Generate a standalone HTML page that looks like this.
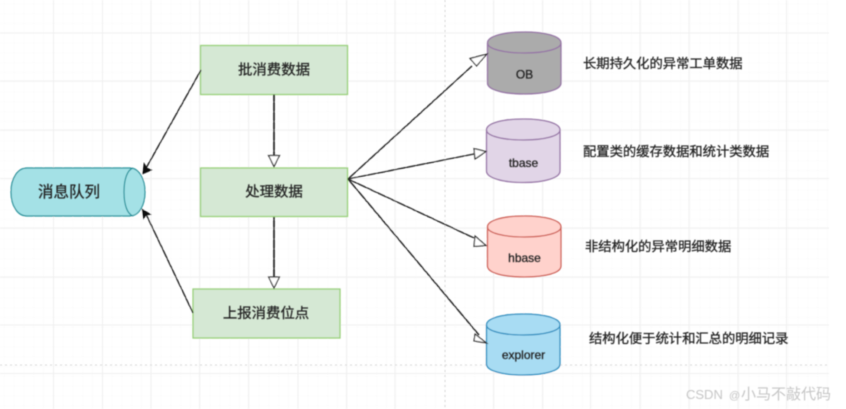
<!DOCTYPE html>
<html><head><meta charset="utf-8"><style>
html,body{margin:0;padding:0;background:#fff;width:846px;height:409px;overflow:hidden}
svg{display:block}
text{font-family:"Liberation Sans","Noto Sans CJK SC",sans-serif;fill:#222}
</style></head><body>
<svg width="846" height="409" viewBox="0 0 846 409" xmlns="http://www.w3.org/2000/svg">
<defs>
<pattern id="gm" x="4" y="-16" width="9.8" height="9.8" patternUnits="userSpaceOnUse"><path d="M0 0V9.8M0 0H9.8" stroke="#f9f9f9" stroke-width="1" fill="none"/></pattern>
<filter id="b" x="-5%" y="-5%" width="110%" height="110%"><feGaussianBlur stdDeviation="0.45"/></filter>
</defs>
<g filter="url(#b)">
<rect x="0" y="0" width="829" height="409" fill="url(#gm)"/>
<g stroke="#f0f0f0" stroke-width="1">
<path d="M53.5 0V409M102.5 0V409M151 0V409M199.5 0V409M248.5 0V409M298 0V409M346.5 0V409M395 0V409M493.5 0V409M542.5 0V409M590.5 0V409M640 0V409M689 0V409M738 0V409M786.5 0V409"/>
<path d="M0 33H829M0 81H829M0 130H829M0 178.5H829M0 228H829M0 277H829M0 325H829M0 373.5H829"/>
</g>
<path d="M445 0V409" stroke="#d4d4d4" stroke-width="1" stroke-dasharray="2 3" fill="none"/>
<path d="M0 365H829" stroke="#d8d8d8" stroke-width="1" stroke-dasharray="2 3" fill="none"/>

<g fill="#d5e8d4" stroke="#97d077" stroke-width="1.3">
<rect x="200.5" y="45.5" width="147" height="49"/>
<rect x="200.5" y="168" width="147" height="48.5"/>
<rect x="193" y="289" width="147" height="49"/>
</g>

<path d="M27 168H130C139 168 145 179 145 192C145 205 139 216 130 216H27C17 216 11 205 11 192C11 179 17 168 27 168Z" fill="#a4e1e6" stroke="#1f929b" stroke-width="1.2"/>
<path d="M133 168C127 170 124 180 124 192C124 204 127 214 133 216" fill="none" stroke="#1f929b" stroke-width="1.2"/>

<g stroke-width="1.3">
<path d="M487.500 43C487.500 36 504 32 524.500 32C545 32 561 36 561 43V83C561 90 545 94 524.500 94C504 94 487.500 90 487.500 83Z" fill="#ababab" stroke="#9673a6"/>
<path d="M487.500 43C487.500 49 504 53 524.500 53C545 53 561 49 561 43" fill="none" stroke="#9673a6"/>
<path d="M486.500 130C486.500 123 503 119 523.500 119C544 119 560 123 560 130V171C560 178 544 182.500 523.500 182.500C503 182.500 486.500 178 486.500 171Z" fill="#e1d5e7" stroke="#9673a6"/>
<path d="M486.500 130C486.500 136 503 140 523.500 140C544 140 560 136 560 130" fill="none" stroke="#9673a6"/>
<path d="M487.500 227C487.500 220 504 216 524.500 216C545 216 561 220 561 227V266C561 273 545 277 524.500 277C504 277 487.500 273 487.500 266Z" fill="#ffd2cc" stroke="#cf5f55"/>
<path d="M487.500 227C487.500 233 504 237 524.500 237C545 237 561 233 561 227" fill="none" stroke="#cf5f55"/>
<path d="M486.500 325C486.500 318 503 314 523.500 314C544 314 560 318 560 325V364C560 371 544 375 523.500 375C503 375 486.500 371 486.500 364Z" fill="#a8dcf3" stroke="#2a8fc0"/>
<path d="M486.500 325C486.500 331 503 335 523.500 335C544 335 560 331 560 325" fill="none" stroke="#2a8fc0"/>
</g>

<g stroke="#222" stroke-width="1.4" fill="none">
<path d="M201 70L145 170"/>
<path d="M193 313L145 212"/>
<path d="M274 94.500V156" stroke-width="1.700"/>
<path d="M274 217V278" stroke-width="1.700"/>
<path d="M348 179L472 66"/>
<path d="M348 179L474 154"/>
<path d="M348 179L474 238"/>
<path d="M348 179L479 335"/>
</g>
<g fill="#111" stroke="#111" stroke-width="0.6">
<path d="M142.500 174L144 163L147 168L152 170Z"/>
<path d="M142 209L151 214.500L146 215L143.500 219Z"/>
</g>
<g fill="#fff" stroke="#333" stroke-width="1.200">
<path d="M268.500 155.500H279.500L274 166.500Z"/>
<path d="M268.500 277H279.500L274 288Z"/>
<path d="M487 54L470 58.500L476.500 66Z"/>
<path d="M486 151.500L474 148.500L475 159Z"/>
<path d="M486 245.500L475 236L474 246.500Z"/>
<path d="M486.500 343L475 334L474 341Z"/>
</g>
</g>

<g style="filter:url(#b)" stroke="#222" stroke-width="0.25">
<g font-size="14.400" text-anchor="middle">
<text x="274" y="74.500">批消费数据</text>
<text x="274" y="196.500">处理数据</text>
<text x="266" y="318">上报消费位点</text>
<text x="69" y="197" font-size="15.500">消息队列</text>
</g>
<g font-size="12" text-anchor="middle">
<text x="524.500" y="78.500">OB</text>
<text x="523.500" y="167">tbase</text>
<text x="524.500" y="262">hbase</text>
<text x="523.500" y="359">explorer</text>
</g>
<g font-size="13.300">
<text x="583" y="68">长期持久化的异常工单数据</text>
<text x="583" y="156">配置类的缓存数据和统计类数据</text>
<text x="585" y="251">非结构化的异常明细数据</text>
<text x="589" y="343">结构化便于统计和汇总的明细记录</text>
</g>
</g>
<g style="filter:url(#b)">
<text x="686" y="399" font-size="13" style="fill:#c6c6c6">CSDN</text>
<text x="729" y="399" font-size="11" style="fill:#c6c6c6">@</text>
<text x="741" y="399" font-size="15" style="fill:#c6c6c6">小马不敲代码</text>
</g>
</svg>
</body></html>
